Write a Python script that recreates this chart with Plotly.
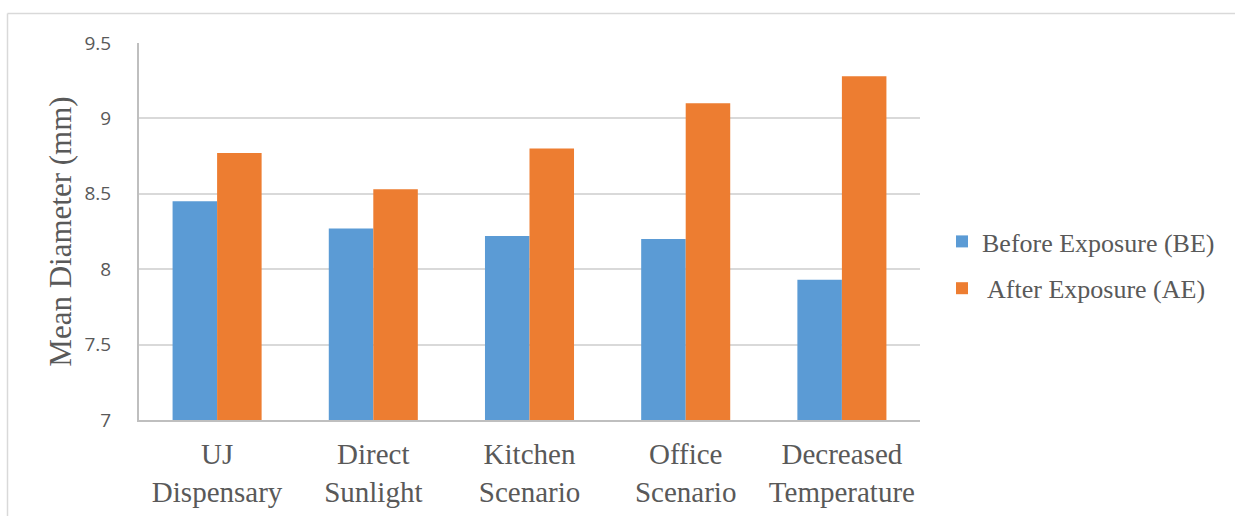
import plotly.graph_objects as go

categories = ["UJ<br>Dispensary", "Direct<br>Sunlight", "Kitchen<br>Scenario", "Office<br>Scenario", "Decreased<br>Temperature"]
before = [8.45, 8.27, 8.22, 8.20, 7.93]
after = [8.77, 8.53, 8.80, 9.10, 9.28]
series_names = ["Before Exposure (BE)", " After Exposure (AE)"]
y_ticks = [7, 7.5, 8, 8.5, 9, 9.5]
y_tick_text = ["7", "7.5", "8", "8.5", "9", "9.5"]

fig = go.Figure()
fig.add_trace(go.Bar(x=categories, y=before, name=series_names[0], marker_color="#5b9bd5",
                     marker_line_width=0, legendgroup="a"))
fig.add_trace(go.Bar(x=categories, y=after, name=series_names[1], marker_color="#ed7d31",
                     marker_line_width=0, legendgroup="b"))

L, R, T, B = 139, 920, 43, 420
W, H = 1235, 516
pw, ph = R - L, B - T

def px(x):
    return (x - L) / pw

def py(y):
    return (B - y) / ph

fig.update_layout(
    width=W, height=H,
    margin=dict(l=L, r=W - R, t=T, b=H - B, pad=0, autoexpand=False),
    paper_bgcolor="white", plot_bgcolor="white",
    barmode="group", bargap=0.43, bargroupgap=0,
    font=dict(family="Liberation Serif", color="#595959"),
    legend=dict(x=px(942), y=py(265), xanchor="left", yanchor="middle",
                font=dict(family="Liberation Serif", size=26, color="#595959"),
                traceorder="grouped", tracegroupgap=10, itemwidth=30),
    xaxis=dict(showline=True, linecolor="#bfbfbf", linewidth=2, ticks="",
               automargin=False,
               tickfont=dict(family="Liberation Serif", size=29, color="#595959"),
               ticklabelstandoff=7),
    yaxis=dict(range=[7, 9.5], tickvals=y_ticks, ticktext=y_tick_text,
               automargin=False,
               showgrid=True, gridcolor="#d9d9d9", gridwidth=2,
               showline=True, linecolor="#bfbfbf", linewidth=2, ticks="", ticklen=0,
               ticklabelstandoff=22,
               tickfont=dict(family="Open Sans", size=19, color="#595959"),
               title=dict(text="Mean Diameter (mm)", standoff=4,
                          font=dict(family="Liberation Serif", size=31, color="#595959"))),
    shapes=[
        dict(type="line", xref="paper", yref="paper", x0=px(7.5), x1=px(1240), y0=py(13.5), y1=py(13.5),
             line=dict(color="#d9d9d9", width=1.5)),
        dict(type="line", xref="paper", yref="paper", x0=px(7.5), x1=px(7.5), y0=py(13.5), y1=py(520),
             line=dict(color="#d9d9d9", width=1.5)),
    ],
)

fig.write_html("out.html")
